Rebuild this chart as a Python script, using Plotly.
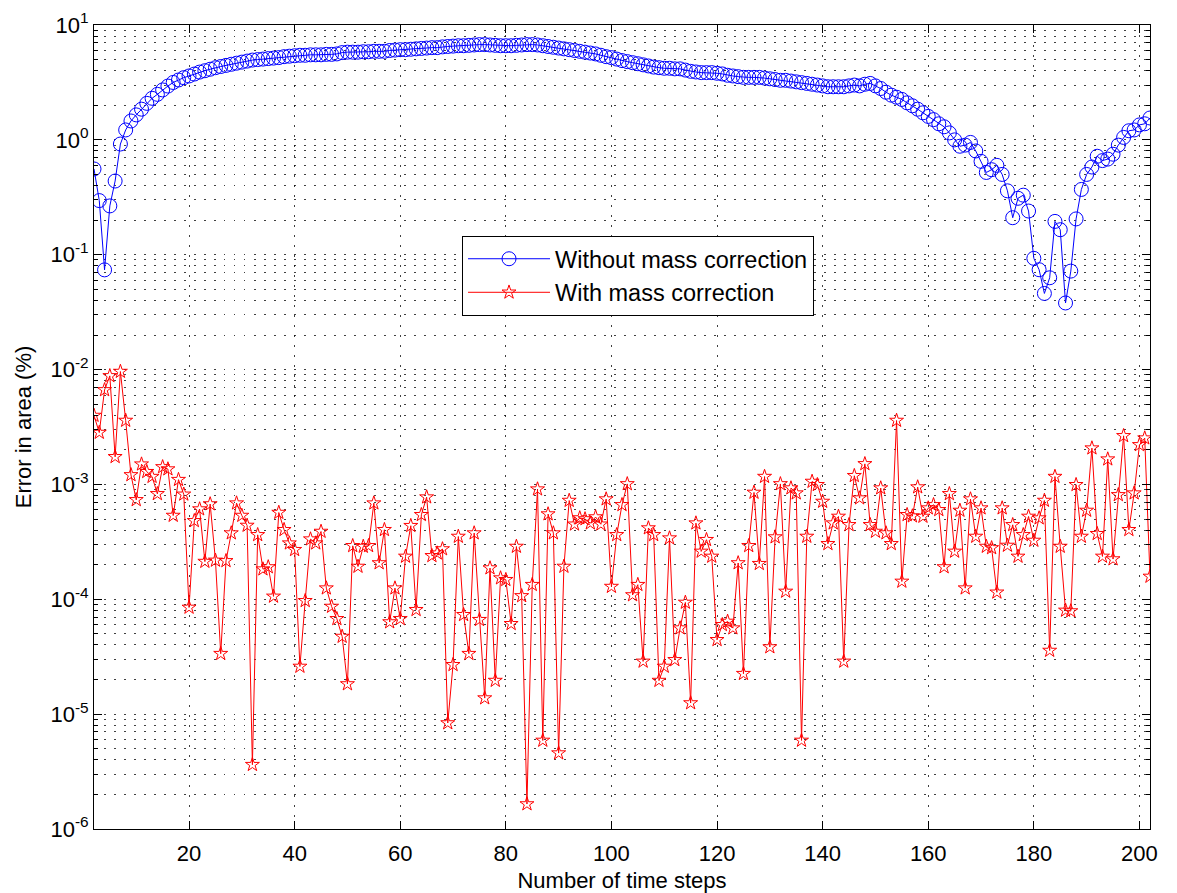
import plotly.graph_objects as go

# Time step index for every sample
steps = list(range(2, 203))

# Relative area error (%) without the mass correction step
err_without = [
    0.558, 0.296, 0.0738, 0.266, 0.438, 0.92, 1.22, 1.46, 1.65, 1.85,
    2.08, 2.30, 2.49, 2.72, 2.94, 3.16, 3.32, 3.48, 3.60,
    3.74, 3.89, 4.0, 4.12, 4.25, 4.35, 4.45, 4.55, 4.65, 4.75,
    4.85, 4.95, 5.0, 5.05, 5.1, 5.15, 5.2,
    5.3, 5.35, 5.4, 5.45, 5.45, 5.5, 5.5, 5.5, 5.55, 5.55,
    5.6, 5.75, 5.8, 5.8, 5.8, 5.85, 5.85, 5.9, 5.9, 5.9,
    6.0, 6.05, 6.1, 6.1, 6.15, 6.2, 6.25, 6.3, 6.35, 6.35,
    6.45, 6.5, 6.55, 6.6, 6.6, 6.65, 6.7, 6.75, 6.75, 6.7,
    6.65, 6.6, 6.6, 6.6, 6.65, 6.7, 6.75, 6.75, 6.7, 6.6,
    6.5, 6.4, 6.3, 6.2, 6.1, 6.0, 5.9, 5.8, 5.7, 5.6,
    5.45, 5.3, 5.2, 5.05, 4.9, 4.8, 4.7, 4.6, 4.5, 4.4,
    4.3, 4.25, 4.2, 4.2, 4.15, 4.15, 4.05, 3.95, 3.9, 3.85,
    3.85, 3.85, 3.8, 3.75, 3.65, 3.6, 3.55, 3.5, 3.5, 3.5,
    3.5, 3.45, 3.4, 3.35, 3.3, 3.3, 3.25, 3.2, 3.15, 3.1,
    3.05, 3.0, 2.95, 2.9, 2.9, 2.9, 2.9, 2.95,
    3.0, 2.95, 3.05, 3.1, 2.95, 2.8, 2.6, 2.45, 2.35, 2.25,
    2.1, 1.98, 1.85, 1.72, 1.6, 1.5, 1.38, 1.3, 1.15, 1.0,
    0.88, 0.9, 0.95, 0.8, 0.65, 0.52, 0.55, 0.6, 0.5, 0.36,
    0.21, 0.31, 0.33, 0.24, 0.093, 0.074, 0.046, 0.063, 0.195, 0.165,
    0.038, 0.072, 0.205, 0.37, 0.5, 0.58, 0.72, 0.66, 0.68, 0.75,
    0.9, 1.05, 1.2, 1.22, 1.35, 1.38, 1.55,
]

# Relative area error (%) with the mass correction step
err_with = [
    3.98e-3, 2.83e-3, 6.65e-3, 8.81e-3, 1.74e-3, 9.61e-3, 3.60e-3, 1.21e-3, 7.34e-4, 1.50e-3,
    1.29e-3, 1.17e-3, 8.28e-4, 1.42e-3, 1.36e-3, 5.36e-4, 1.10e-3, 8.2e-4, 8.49e-5, 4.82e-4,
    6.10e-4, 2.13e-4, 6.75e-4, 2.18e-4, 3.36e-5, 2.16e-4, 3.77e-4, 6.87e-4, 5.36e-4, 4.39e-4,
    3.63e-6, 3.64e-4, 1.83e-4, 1.91e-4, 1.06e-4, 5.69e-4, 4.03e-4, 3.08e-4, 2.70e-4, 2.60e-5,
    9.70e-5, 3.34e-4, 3.08e-4, 3.89e-4, 1.25e-4, 8.65e-5, 6.76e-5, 4.74e-5, 1.83e-5, 2.92e-4,
    1.93e-4, 2.88e-4, 2.92e-4, 6.87e-4, 2.07e-4, 4.03e-4, 6.34e-5, 1.25e-4, 6.76e-5, 2.36e-4,
    4.37e-4, 8.11e-5, 5.44e-4, 7.75e-4, 2.39e-4, 2.52e-4, 2.74e-4, 8.37e-6, 2.69e-5, 3.52e-4,
    7.33e-5, 3.36e-5, 3.77e-4, 6.64e-5, 1.38e-5, 1.87e-4, 1.96e-5, 1.53e-4, 1.48e-4, 6.12e-5,
    2.88e-4, 1.07e-4, 1.65e-6, 1.34e-4, 9.10e-4, 5.90e-6, 5.52e-4, 3.77e-4, 4.58e-6, 1.93e-4,
    7.24e-4, 4.5e-4, 5.1e-4, 5.0e-4, 4.6e-4, 5.2e-4, 4.5e-4, 7.45e-4, 1.29e-4, 3.64e-4,
    6.64e-4, 1.01e-3, 1.09e-4, 1.34e-4, 2.88e-5, 4.17e-4, 3.64e-4, 1.96e-5, 2.60e-5, 3.41e-4,
    2.97e-5, 5.61e-5, 9.38e-5, 1.25e-5, 4.60e-4, 2.61e-4, 3.30e-4, 2.36e-4, 4.44e-5, 6.00e-5,
    6.41e-5, 5.61e-5, 2.07e-4, 2.25e-5, 2.92e-4, 8.51e-4, 2.04e-4, 1.17e-3, 3.84e-5, 3.48e-4,
    1.01e-3, 1.17e-4, 9.29e-4, 8.40e-4, 5.90e-6, 3.52e-4, 1.06e-3, 9.93e-4, 7.10e-4, 3.04e-4,
    4.60e-4, 5.26e-4, 2.88e-5, 4.45e-4, 1.19e-3, 7.60e-4, 1.51e-3, 4.45e-4, 3.89e-4, 9.29e-4,
    3.77e-4, 3.04e-4, 3.60e-3, 1.43e-4, 5.44e-4, 5.3e-4, 9.48e-4, 5.26e-4, 6.22e-4, 6.64e-4,
    6.01e-4, 1.91e-4, 8.28e-4, 2.61e-4, 5.93e-4, 1.25e-4, 7.45e-4, 3.52e-4, 6.22e-4, 2.88e-4,
    2.8e-4, 1.15e-4, 6.22e-4, 2.94e-4, 4.45e-4, 2.36e-4, 3.64e-4, 5.26e-4, 3.25e-4, 5.09e-4,
    7.24e-4, 3.58e-5, 1.17e-3, 2.88e-4, 8.00e-5, 7.9e-5, 9.93e-4, 3.52e-4, 5.93e-4, 2.07e-3,
    3.72e-4, 2.36e-4, 1.66e-3, 2.24e-4, 8.11e-4, 2.65e-3, 4.03e-4, 8.40e-4, 2.21e-3, 2.53e-3,
    1.58e-4,
]

x_ticks = list(range(20, 201, 20))
y_exponents = list(range(-6, 2))
y_ticks = [10.0 ** e for e in y_exponents]
y_labels = ["10<sup>%d</sup>" % e for e in y_exponents]
y_minor = [m * 10.0 ** e for e in range(-6, 1) for m in range(2, 10)]

FONT = "Liberation Sans, Arial, Helvetica, sans-serif"
GRID_DASH = "1.5px,8.5px"
GRID_COLOR = "rgba(0,0,0,0.75)"

fig = go.Figure()
fig.add_trace(go.Scatter(
    x=steps, y=err_without, mode="lines+markers",
    name="Without mass correction",
    line=dict(color="#0000FF", width=1),
    marker=dict(symbol="circle-open", size=14, color="#0000FF", line=dict(width=1)),
))
fig.add_trace(go.Scatter(
    x=steps, y=err_with, mode="lines+markers",
    name="With mass correction",
    line=dict(color="#FF0000", width=1),
    marker=dict(symbol="star-open", size=10.5, color="#FF0000", line=dict(width=1)),
))

fig.update_layout(
    width=1177, height=893,
    margin=dict(l=94, r=27, t=25, b=64),
    paper_bgcolor="white", plot_bgcolor="white",
    font=dict(family=FONT, size=22, color="black"),
    showlegend=True,
    legend=dict(
        x=0.3485, y=0.7376, xanchor="left", yanchor="top",
        bgcolor="white", bordercolor="black", borderwidth=1,
        font=dict(family=FONT, size=23.5, color="black"),
        itemwidth=82,
    ),
    xaxis=dict(
        range=[2, 202], tickmode="array", tickvals=x_ticks,
        ticks="inside", ticklen=8, tickcolor="black",
        ticklabelstandoff=5,
        showline=True, linecolor="black", linewidth=1, mirror="allticks",
        showgrid=True, gridcolor=GRID_COLOR, gridwidth=1, griddash=GRID_DASH,
        zeroline=False, automargin=False,
        title=dict(text="Number of time steps", standoff=8,
                   font=dict(family=FONT, size=22, color="black")),
    ),
    yaxis=dict(
        type="log", range=[-6, 1], tickmode="array",
        tickvals=y_ticks, ticktext=y_labels,
        ticks="inside", ticklen=8, tickcolor="black",
        showline=True, linecolor="black", linewidth=1, mirror="allticks",
        showgrid=True, gridcolor=GRID_COLOR, gridwidth=1, griddash=GRID_DASH,
        zeroline=False, automargin=False,
        minor=dict(
            tickmode="array", tickvals=y_minor,
            ticks="inside", ticklen=4, tickcolor="black",
            showgrid=True, gridcolor=GRID_COLOR, gridwidth=1, griddash=GRID_DASH,
        ),
        title=dict(text="Error in area (%)", standoff=12,
                   font=dict(family=FONT, size=22, color="black")),
    ),
)

fig.write_html("out.html")
